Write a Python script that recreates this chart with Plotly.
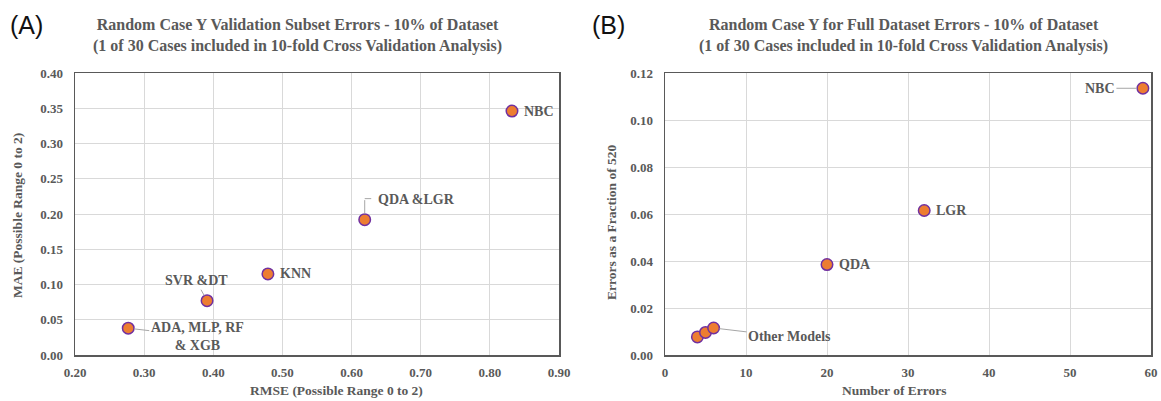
import plotly.graph_objects as go

# ---- data ----
a_labels = ["ADA, MLP, RF<br>& XGB", "SVR &DT", "KNN", "QDA &LGR", "NBC"]
a_rmse = [0.277, 0.391, 0.479, 0.619, 0.832]
a_mae = [0.038, 0.077, 0.115, 0.192, 0.346]

b_labels = ["", "", "Other Models", "QDA", "LGR", "NBC"]
b_errors = [4, 5, 6, 20, 32, 59]
b_fraction = [0.0077, 0.0096, 0.0115, 0.0385, 0.0615, 0.1135]

a_xticks = [0.20, 0.30, 0.40, 0.50, 0.60, 0.70, 0.80, 0.90]
a_yticks = [0.00, 0.05, 0.10, 0.15, 0.20, 0.25, 0.30, 0.35, 0.40]
b_xticks = [0, 10, 20, 30, 40, 50, 60]
b_yticks = [0.00, 0.02, 0.04, 0.06, 0.08, 0.10, 0.12]

# ---- style ----
W, H = 1161, 401
SERIF = "Liberation Serif, Times New Roman, serif"
GRAY = "#595959"
ORANGE = "#ED7D31"
PURPLE = "#7030A0"
GRID = "#d9d9d9"

def px_x(p):
    return p / W

def px_y(p):
    return 1 - p / H

yd = [px_y(355), px_y(73)]

fig = go.Figure()
marker = dict(color=ORANGE, size=11.5, line=dict(color=PURPLE, width=1.5))
fig.add_trace(go.Scatter(x=a_rmse, y=a_mae, mode="markers", marker=marker,
                         xaxis="x", yaxis="y", showlegend=False, cliponaxis=False))
fig.add_trace(go.Scatter(x=b_errors, y=b_fraction, mode="markers", marker=marker,
                         xaxis="x2", yaxis="y2", showlegend=False, cliponaxis=False))

tickfont = dict(family=SERIF, size=13, color=GRAY, weight="bold")
axis_common = dict(showgrid=True, gridcolor=GRID, gridwidth=1, zeroline=False,
                   showline=True, linecolor=GRAY, linewidth=1.5, mirror=True,
                   tickfont=tickfont, ticks="", fixedrange=True, automargin=False,
                   ticklabeloverflow="allow")

fig.update_layout(
    template="none",
    width=W, height=H,
    margin=dict(l=0, r=0, t=0, b=0, pad=0, autoexpand=False),
    paper_bgcolor="white", plot_bgcolor="white",
    xaxis=dict(domain=[px_x(75), px_x(559)], range=[0.2, 0.9], tickvals=a_xticks,
               ticktext=[f"{v:.2f}" for v in a_xticks], anchor="y",
               ticklabelstandoff=5, **axis_common),
    yaxis=dict(domain=yd, range=[0, 0.4], tickvals=a_yticks,
               ticktext=[f"{v:.2f}" for v in a_yticks], anchor="x",
               ticklabelstandoff=8, **axis_common),
    xaxis2=dict(domain=[px_x(665), px_x(1151)], range=[0, 60], tickvals=b_xticks,
                ticktext=[str(v) for v in b_xticks], anchor="y2",
                ticklabelstandoff=5, **axis_common),
    yaxis2=dict(domain=yd, range=[0, 0.12], tickvals=b_yticks,
                ticktext=[f"{v:.2f}" for v in b_yticks], anchor="x2",
                ticklabelstandoff=8, **axis_common),
)

ann = []
lab_font = dict(family=SERIF, size=14, color=GRAY, weight="bold")
arrow_style = dict(showarrow=True, arrowhead=0, arrowwidth=1, arrowcolor="#a6a6a6")

def paper_text(text, x, y, font, **kw):
    d = dict(text=text, x=px_x(x), y=px_y(y), xref="paper", yref="paper",
             xanchor="center", yanchor="middle", showarrow=False, font=font)
    d.update(kw)
    return d

letter_font = dict(family="Liberation Sans, Arial", size=25, color="#111111")
ann.append(paper_text("(A)", 8, 25, letter_font, xanchor="left"))
ann.append(paper_text("(B)", 590, 25, letter_font, xanchor="left"))

title_font = dict(family=SERIF, size=16, color=GRAY, weight="bold")
ann.append(paper_text("Random Case Y Validation Subset Errors - 10% of Dataset<br>(1 of 30 Cases included in 10-fold Cross Validation Analysis)",
                      297, 35, title_font))
ann.append(paper_text("Random Case Y for Full Dataset Errors - 10% of Dataset<br>(1 of 30 Cases included in 10-fold Cross Validation Analysis)",
                      903, 35, title_font))

ax_font = dict(family=SERIF, size=13.5, color=GRAY, weight="bold")
ann.append(paper_text("RMSE (Possible Range 0 to 2)", 336, 390, ax_font))
ann.append(paper_text("Number of Errors", 895, 390, ax_font))
ann.append(paper_text("MAE (Possible Range 0 to 2)", 17, 216, ax_font, textangle=-90))
ann.append(paper_text("Errors as a Fraction of 520", 611, 222, ax_font, textangle=-90))

# panel A point labels
ann.append(dict(text=a_labels[0], x=a_rmse[0], y=a_mae[0], xref="x", yref="y",
                ax=69, ay=8, font=lab_font, standoff=6, **arrow_style))
ann.append(dict(text=a_labels[1], x=a_rmse[1], y=a_mae[1], xref="x", yref="y",
                ax=-11, ay=-20, font=lab_font, standoff=6, **arrow_style))
ann.append(dict(text=a_labels[2], x=a_rmse[2], y=a_mae[2], xref="x", yref="y",
                xanchor="left", xshift=10, showarrow=False, font=lab_font))
# QDA &LGR (elbow leader)
ann.append(dict(text="", x=a_rmse[3], y=a_mae[3], xref="x", yref="y",
                ax=0, ay=-21, standoff=6, **arrow_style))
ann.append(dict(text="", x=a_rmse[3], y=a_mae[3], xref="x", yref="y",
                ax=8, ay=0, standoff=0, yshift=21, **arrow_style))
ann.append(dict(text=a_labels[3], x=a_rmse[3], y=a_mae[3], xref="x", yref="y",
                xanchor="left", xshift=11, yshift=20, showarrow=False, font=lab_font))
ann.append(dict(text=a_labels[4], x=a_rmse[4], y=a_mae[4], xref="x", yref="y",
                xanchor="left", xshift=10, showarrow=False, font=lab_font))

# panel B point labels
ann.append(dict(text=b_labels[2], x=b_errors[2], y=b_fraction[2], xref="x2", yref="y2",
                ax=76, ay=9, font=lab_font, standoff=6, **arrow_style))
ann.append(dict(text=b_labels[3], x=b_errors[3], y=b_fraction[3], xref="x2", yref="y2",
                xanchor="left", xshift=10, showarrow=False, font=lab_font))
ann.append(dict(text=b_labels[4], x=b_errors[4], y=b_fraction[4], xref="x2", yref="y2",
                xanchor="left", xshift=10, showarrow=False, font=lab_font))
ann.append(dict(text=b_labels[5], x=b_errors[5], y=b_fraction[5], xref="x2", yref="y2",
                ax=-43, ay=0, font=lab_font, standoff=6, **arrow_style))

fig.update_layout(annotations=ann)
fig.write_html("out.html",
               config={"displayModeBar": False, "staticPlot": True},
               post_script="document.body.style.margin='0px';document.body.style.overflow='hidden';")
